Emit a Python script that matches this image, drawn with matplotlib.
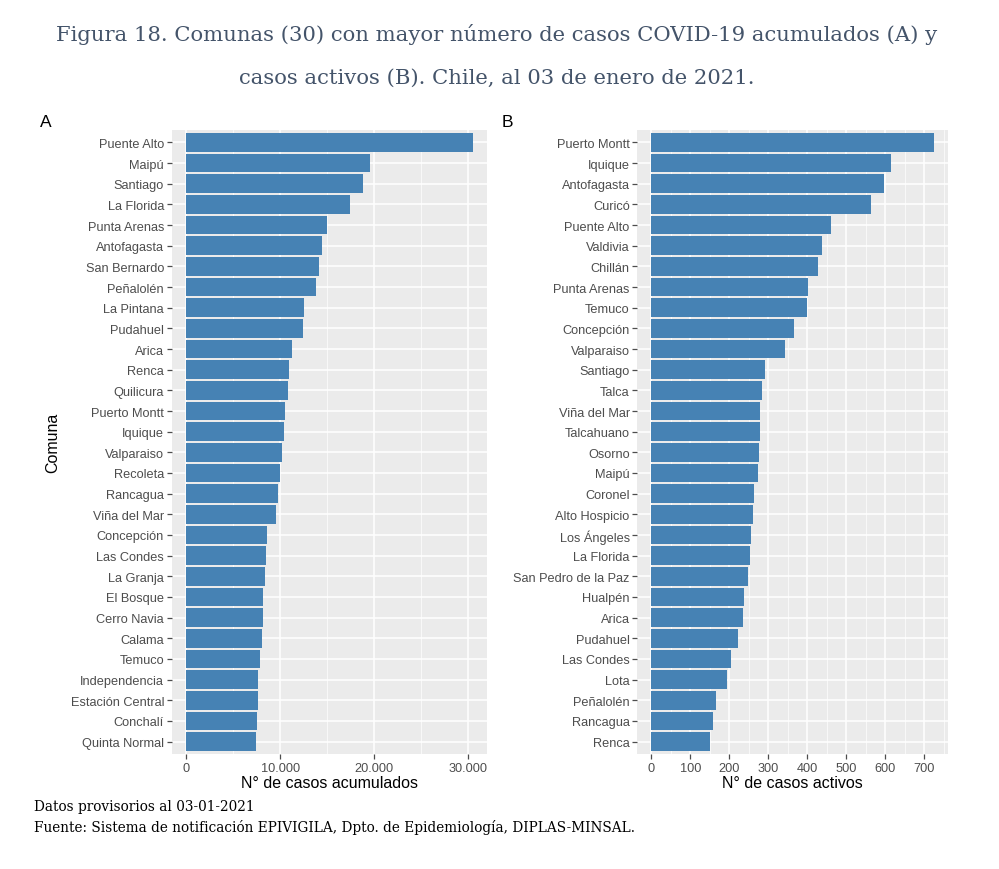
import numpy as np
import matplotlib
import matplotlib.pyplot as plt
from matplotlib.ticker import FuncFormatter, MultipleLocator

matplotlib.use("Agg")
plt.rcParams["font.family"] = ["Liberation Sans", "DejaVu Sans"]

# Panel A: cumulative cases (top 30 comunas)
comunas_a = [
    "Puente Alto", "Maipú", "Santiago", "La Florida", "Punta Arenas",
    "Antofagasta", "San Bernardo", "Peñalolén", "La Pintana", "Pudahuel",
    "Arica", "Renca", "Quilicura", "Puerto Montt", "Iquique",
    "Valparaiso", "Recoleta", "Rancagua", "Viña del Mar", "Concepción",
    "Las Condes", "La Granja", "El Bosque", "Cerro Navia", "Calama",
    "Temuco", "Independencia", "Estación Central", "Conchalí", "Quinta Normal",
]
casos_acumulados = [
    30460, 19560, 18820, 17410, 14930,
    14500, 14080, 13760, 12530, 12380,
    11250, 10970, 10830, 10540, 10360,
    10190, 9980, 9800, 9510, 8560,
    8490, 8340, 8210, 8130, 8100,
    7810, 7680, 7660, 7540, 7460,
]

# Panel B: active cases (top 30 comunas)
comunas_b = [
    "Puerto Montt", "Iquique", "Antofagasta", "Curicó", "Puente Alto",
    "Valdivia", "Chillán", "Punta Arenas", "Temuco", "Concepción",
    "Valparaiso", "Santiago", "Talca", "Viña del Mar", "Talcahuano",
    "Osorno", "Maipú", "Coronel", "Alto Hospicio", "Los Ángeles",
    "La Florida", "San Pedro de la Paz", "Hualpén", "Arica", "Pudahuel",
    "Las Condes", "Lota", "Peñalolén", "Rancagua", "Renca",
]
casos_activos = [
    726, 616, 597, 564, 462,
    439, 427, 401, 400, 365,
    342, 291, 283, 279, 278,
    276, 274, 264, 260, 256,
    253, 248, 237, 236, 222,
    205, 194, 166, 157, 150,
]

titulo = ("Figura 18. Comunas (30) con mayor número de casos COVID-19 acumulados (A) y\n"
          "casos activos (B). Chile, al 03 de enero de 2021.")
nota = ("Datos provisorios al 03-01-2021\n"
        "Fuente: Sistema de notificación EPIVIGILA, Dpto. de Epidemiología, DIPLAS-MINSAL.")

W, H = 999, 870
fig = plt.figure(figsize=(W / 100, H / 100), dpi=100)

bar_color = "#4682B4"
tick_gray = "#4D4D4D"


def miles(x, pos):
    return f"{int(x):,}".replace(",", ".")


def panel(rect, labels, values, xlabel, major, minor, fmt=None):
    ax = fig.add_axes(rect)
    ax.set_facecolor("#EBEBEB")
    y = np.arange(len(labels))[::-1]
    ax.barh(y, values, height=0.9, color=bar_color, zorder=3)
    vmax = max(values)
    ax.set_xlim(-0.05 * vmax, 1.05 * vmax)
    ax.set_ylim(-0.6, len(labels) - 0.4)
    ax.set_yticks(y)
    ax.set_yticklabels(labels)
    ax.xaxis.set_major_locator(MultipleLocator(major))
    ax.xaxis.set_minor_locator(MultipleLocator(minor))
    if fmt:
        ax.xaxis.set_major_formatter(FuncFormatter(fmt))
    ax.grid(which="major", color="white", linewidth=1.1, zorder=0)
    ax.grid(which="minor", axis="x", color="white", linewidth=0.5, zorder=0)
    ax.set_axisbelow(True)
    for s in ax.spines.values():
        s.set_visible(False)
    ax.tick_params(which="major", colors=tick_gray, labelsize=9.2, length=3.5,
                   width=0.9, pad=2)
    ax.tick_params(which="minor", length=0)
    ax.set_xlabel(xlabel, fontsize=11.5, color="black", labelpad=1)
    return ax


axA = panel([171.7 / W, 1 - 755 / H, (487 - 171.7) / W, (755 - 131) / H],
            comunas_a, casos_acumulados, "N° de casos acumulados", 10000, 5000, miles)
axA.set_ylabel("Comuna", fontsize=11.5, color="black")
axA.yaxis.set_label_coords((60 - 171.7) / (487 - 171.7), 0.5)

axB = panel([637.3 / W, 1 - 755 / H, (948.3 - 637.3) / W, (755 - 131) / H],
            comunas_b, casos_activos, "N° de casos activos", 100, 50)

fig.text(40 / W, 1 - 123 / H, "A", fontsize=12.5, ha="left", va="center")
fig.text(502 / W, 1 - 123 / H, "B", fontsize=12.5, ha="left", va="center")

fig.text(0.497, 1 - 56 / H, titulo, fontsize=15.2, color="#44546A",
         family="DejaVu Serif", ha="center", va="center", linespacing=2.6)
fig.text(34 / W, 1 - 818 / H, nota, fontsize=9.8, color="black",
         family="DejaVu Serif", ha="left", va="center", linespacing=1.5)

fig.savefig("out.png", dpi=100, facecolor="white")
